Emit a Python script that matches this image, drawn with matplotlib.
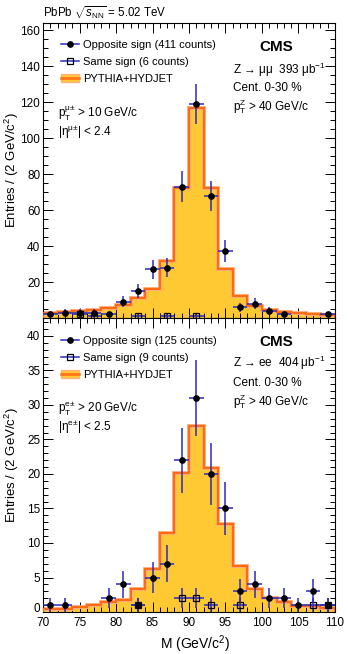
import numpy as np
import matplotlib
matplotlib.use('Agg')
from matplotlib import pyplot as plt
from matplotlib.lines import Line2D
from matplotlib.patches import Patch
from matplotlib.ticker import MultipleLocator
from matplotlib.transforms import ScaledTranslation

plt.rcParams['font.family'] = ['Liberation Sans', 'DejaVu Sans']
plt.rcParams['mathtext.fontset'] = 'custom'
plt.rcParams['mathtext.rm'] = 'Liberation Sans'
plt.rcParams['mathtext.it'] = 'Liberation Sans:italic'
plt.rcParams['mathtext.bf'] = 'Liberation Sans:bold'

# bin edges, 2 GeV wide
edges = np.arange(70, 112, 2)
centers = edges[:-1] + 1

# Z -> mumu
mu_os = [2, 3, 3, 3, 2, 9, 15, 27, 28, 73, 119, 68, 37, 6, 8, 4, 2, 0, 0, 2]
mu_ss = [0, 0, 2, 1, 0, 0, 1, 0, 1, 0, 1, 0, 0, 0, 0, 0, 0, 0, 0, 0]
mu_mc = [3.0, 3.3, 3.7, 4.2, 5.6, 7.2, 11.0, 16.2, 31.5, 72.5, 116.5, 72.0,
         27.0, 12.0, 6.5, 4.6, 3.4, 2.6, 2.0, 1.7]

# Z -> ee
e_os = [1, 1, 0, 0, 2, 4, 1, 5, 7, 22, 31, 20, 15, 3, 4, 2, 2, 1, 3, 1]
e_ss = [0, 0, 0, 0, 0, 0, 1, 0, 0, 2, 2, 1, 0, 1, 0, 0, 0, 0, 1, 1]
e_mc = [0.4, 0.4, 0.7, 1.0, 1.5, 1.7, 3.3, 6.2, 11.5, 20.2, 26.9, 20.9,
        12.7, 6.7, 3.4, 2.1, 1.5, 0.9, 0.9, 0.6]

FILL = '#ffc933'
EDGE = '#ff6a13'
HALO = '#ffb080'
BLUE = '#2b2bc0'
FS = 8.5

fig = plt.figure(figsize=(3.48, 6.54), dpi=100)
ax1 = fig.add_axes([0.1236, 0.5138, 0.839, 0.451])
ax2 = fig.add_axes([0.1236, 0.0642, 0.839, 0.4496], sharex=ax1)


def draw_panel(ax, os_vals, ss_vals, mc_vals, n_os, n_ss, leg_y):
    ax.stairs(mc_vals, edges, fill=True, color=FILL, zorder=1)
    ax.stairs(mc_vals, edges, color=HALO, lw=2.8, zorder=2)
    ax.stairs(mc_vals, edges, color=EDGE, lw=1.5, zorder=3)
    os_vals = np.array(os_vals, dtype=float)
    ss_vals = np.array(ss_vals, dtype=float)
    m = os_vals > 0
    ax.errorbar(centers[m], os_vals[m], xerr=1, yerr=np.sqrt(os_vals[m]),
                fmt='o', ms=3.8, mfc='black', mec='black', ecolor=BLUE,
                elinewidth=1.1, capsize=0, zorder=5)
    m = ss_vals > 0
    ax.errorbar(centers[m], ss_vals[m], xerr=1, yerr=np.sqrt(ss_vals[m]),
                fmt='s', ms=4.5, mfc='none', mec='black', mew=0.9, ecolor=BLUE,
                elinewidth=1.1, capsize=0, zorder=4)
    h_os = Line2D([], [], color=BLUE, lw=1.1, marker='o', ms=3.8,
                  mfc='black', mec='black')
    h_ss = Line2D([], [], color=BLUE, lw=1.1, marker='s', ms=3.8,
                  mfc='none', mec='black', mew=0.9)
    h_mc = (Patch(facecolor=FILL, edgecolor=HALO, lw=1.0),
            Line2D([], [], color=EDGE, lw=1.8))
    ax.legend([h_os, h_ss, h_mc],
              ['Opposite sign (%d counts)' % n_os,
               'Same sign (%d counts)' % n_ss, 'PYTHIA+HYDJET'],
              loc='upper left', bbox_to_anchor=(0.062, leg_y), frameon=False,
              fontsize=8, handlelength=1.6, handletextpad=0.4,
              labelspacing=0.62, borderaxespad=0.0, borderpad=0.0)
    ax.set_xlim(70, 110)
    ax.xaxis.set_major_locator(MultipleLocator(5))
    ax.xaxis.set_minor_locator(MultipleLocator(1))
    ax.tick_params(which='both', direction='in', top=True, right=True,
                   labelsize=FS, width=0.7, pad=2)
    ax.tick_params(which='major', length=7)
    ax.tick_params(which='minor', length=3.5)
    for s in ax.spines.values():
        s.set_linewidth(0.8)
    ax.set_ylabel('Entries / (2 GeV/c$^2$)', fontsize=9.5)
    ax.yaxis.set_label_coords(-0.074, 0.5)


draw_panel(ax1, mu_os, mu_ss, mu_mc, 411, 6, 0.942)
draw_panel(ax2, e_os, e_ss, e_mc, 125, 9, 0.938)

ax1.set_ylim(0, 164)
ax1.set_yticks([20, 40, 60, 80, 100, 120, 140, 160])
ax1.yaxis.set_minor_locator(MultipleLocator(5))
ax1.tick_params(labelbottom=False)

ax2.set_ylim(0, 42.6)
ax2.set_yticks([0, 5, 10, 15, 20, 25, 30, 35, 40])
ax2.yaxis.set_minor_locator(MultipleLocator(1))
ax2.tick_params(axis='x', which='both', pad=3.5)
ax2.set_xlabel('M (GeV/c$^2$)', fontsize=10)
ax2.xaxis.set_label_coords(0.52, -0.072)

# lift the "0" label a little so it clears the "70" below it
zero_lbl = ax2.yaxis.get_major_ticks()[0].label1
zero_lbl.set_transform(zero_lbl.get_transform()
                       + ScaledTranslation(0, 3 / 72, fig.dpi_scale_trans))

fig.text(0.124, 0.981, r'PbPb $\sqrt{s_{\mathrm{NN}}}$ = 5.02 TeV',
         fontsize=8.3, va='center', ha='left')

# text blocks, top panel
ax1.text(0.80, 0.92, 'CMS', transform=ax1.transAxes, fontsize=11,
         fontweight='bold', ha='center', va='center')
ax1.text(0.652, 0.84, r'Z → μμ  393 μb$^{\mathrm{-1}}$', transform=ax1.transAxes,
         fontsize=FS, va='center')
ax1.text(0.652, 0.78, 'Cent. 0-30 %', transform=ax1.transAxes,
         fontsize=FS, va='center')
ax1.text(0.652, 0.715, r'p$_{\mathrm{T}}^{\mathrm{Z}}$ > 40 GeV/c',
         transform=ax1.transAxes, fontsize=FS, va='center')
ax1.text(0.05, 0.695, r'p$_{\mathrm{T}}^{\mathrm{μ±}}$ > 10 GeV/c',
         transform=ax1.transAxes, fontsize=FS, va='center')
ax1.text(0.05, 0.63, r'|η$^{\mathrm{μ±}}$| < 2.4', transform=ax1.transAxes,
         fontsize=FS, va='center')

# text blocks, bottom panel
ax2.text(0.80, 0.918, 'CMS', transform=ax2.transAxes, fontsize=11,
         fontweight='bold', ha='center', va='center')
ax2.text(0.652, 0.847, r'Z → ee  404 μb$^{\mathrm{-1}}$', transform=ax2.transAxes,
         fontsize=FS, va='center')
ax2.text(0.652, 0.78, 'Cent. 0-30 %', transform=ax2.transAxes,
         fontsize=FS, va='center')
ax2.text(0.652, 0.715, r'p$_{\mathrm{T}}^{\mathrm{Z}}$ > 40 GeV/c',
         transform=ax2.transAxes, fontsize=FS, va='center')
ax2.text(0.05, 0.694, r'p$_{\mathrm{T}}^{\mathrm{e±}}$ > 20 GeV/c',
         transform=ax2.transAxes, fontsize=FS, va='center')
ax2.text(0.05, 0.629, r'|η$^{\mathrm{e±}}$| < 2.5', transform=ax2.transAxes,
         fontsize=FS, va='center')

fig.savefig('out.png', dpi=100)
